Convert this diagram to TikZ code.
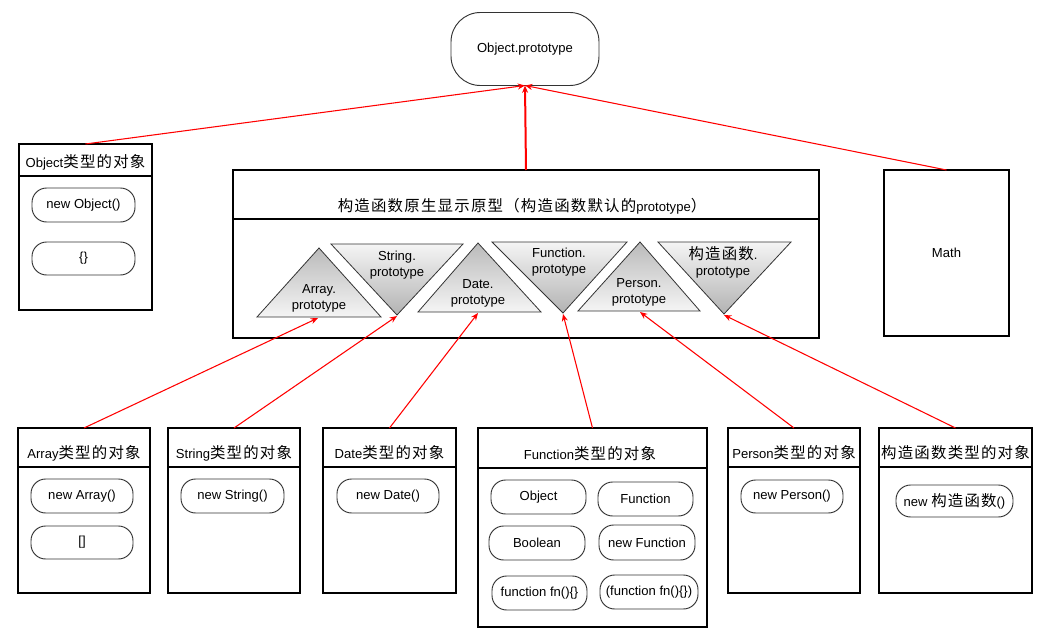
\documentclass[tikz,border=0pt]{standalone}
\usepackage{fontspec}
\setmainfont{Liberation Sans}
\newfontfamily\cjk[Scale=1.18, LetterSpace=8]{Noto Sans CJK SC}
\usetikzlibrary{arrows.meta}
\begin{document}
\begin{tikzpicture}[x=0.75pt,y=-0.75pt,
  font=\fontsize{9.8}{11}\selectfont,
  wh/.style 2 args={minimum width=#1*0.75pt, minimum height=#2*0.75pt},
  framebox/.style={draw=black, line width=0.9pt, inner sep=0pt, outer sep=0pt},
  pill/.style={draw=black!80, line width=0.7pt, rounded corners=11pt, inner sep=0pt, outer sep=0pt},
  divider/.style={draw=black, line width=0.9pt},
  tri/.style={draw=black!80, line width=0.6pt},
  up/.style={tri, top color=black!27, bottom color=black!4},
  down/.style={tri, top color=black!4, bottom color=black!30},
  trilabel/.style={align=center, font=\fontsize{9.8}{12}\selectfont, inner sep=0pt},
  link/.style={draw=red, line width=0.8pt, -{Stealth[length=5.5pt,width=4.5pt]}},
  ]
\useasboundingbox (0,0) rectangle (1049,639);

% ---- top: Object.prototype ----
\node[pill, rounded corners=22pt, wh={148}{73}] (objproto) at (525,49) {Object.prototype};

% ---- Object instances ----
\node[framebox, wh={133}{166}] (objbox) at (85.5,227) {};
\draw[divider] (objbox.west |- 0,176) -- (objbox.east |- 0,176);
\node (objtitle) at (85.5,162) {Object{\cjk 类型的对象}};
\node[pill, wh={103}{34}] (newobj) at (83.5,205) {new Object()};
\node[pill, wh={103}{33}] (objlit) at (83.5,258.5) {\{\}};

% ---- constructor prototypes ----
\node[framebox, wh={586}{168}] (ctorbox) at (526,254) {};
\draw[divider] (ctorbox.west |- 0,219) -- (ctorbox.east |- 0,219);
\node (ctortitle) at (522,206) {{\cjk 构造函数原生显示原型（构造函数默认的}prototype{\cjk ）}};

\path[up]   (319,248) -- (381,317) -- (257,317) -- cycle;
\path[down] (331,244) -- (463,244) -- (397,315) -- cycle;
\path[up]   (478,243) -- (541,312) -- (418,312) -- cycle;
\path[down] (492,242) -- (627,242) -- (563,313) -- cycle;
\path[up]   (640,242) -- (700,311) -- (578,311) -- cycle;
\path[down] (658,242) -- (791,242) -- (724,314) -- cycle;

\node[trilabel] (arrproto)  at (319,298.5) {Array.\\prototype};
\node[trilabel] (strproto)  at (397,265)   {String.\\prototype};
\node[trilabel] (dateproto) at (478,293)   {Date.\\prototype};
\node[trilabel] (funcproto) at (559,262)   {Function.\\prototype};
\node[trilabel] (persproto) at (639,292)   {Person.\\prototype};
\node[trilabel] (ctproto)   at (723,262)   {{\cjk 构造函数}.\\prototype};

\coordinate (arrtip)  at (318,318);
\coordinate (strtip)  at (397,316);
\coordinate (datetip) at (478,313);
\coordinate (functip) at (563,314);
\coordinate (perstip) at (640,312);
\coordinate (cttip)   at (724,315);

% ---- Math ----
\node[framebox, wh={125}{166}] (math) at (946.5,253) {Math};

% ---- instance boxes ----
\node[framebox, wh={132}{165}] (arrbox) at (84,510.5) {};
\draw[divider] (arrbox.west |- 0,467) -- (arrbox.east |- 0,467);
\node (arrtitle) at (84,453) {Array{\cjk 类型的对象}};
\node[pill, wh={102}{34}] (newarr) at (82,496) {new Array()};
\node[pill, wh={102}{33}] (arrlit) at (82,542.5) {[]};

\node[framebox, wh={132}{165}] (strbox) at (234,510.5) {};
\draw[divider] (strbox.west |- 0,467) -- (strbox.east |- 0,467);
\node (strtitle) at (234,453) {String{\cjk 类型的对象}};
\node[pill, wh={103}{34}] (newstr) at (232.5,496) {new String()};

\node[framebox, wh={133}{165}] (datebox) at (389.5,510.5) {};
\draw[divider] (datebox.west |- 0,467) -- (datebox.east |- 0,467);
\node (datetitle) at (389.5,453) {Date{\cjk 类型的对象}};
\node[pill, wh={102}{34}] (newdate) at (388,496) {new Date()};

\node[framebox, wh={229}{199}] (funcbox) at (592.5,527.5) {};
\draw[divider] (funcbox.west |- 0,468) -- (funcbox.east |- 0,468);
\node (functitle) at (590,454) {Function{\cjk 类型的对象}};
\node[pill, wh={95}{34}] (fobject)  at (538.5,497) {Object};
\node[pill, wh={95}{34}] (ffunc)    at (645.5,499) {Function};
\node[pill, wh={96}{34}] (fbool)    at (537,543)   {Boolean};
\node[pill, wh={96}{35}] (fnewfunc) at (647,542.5) {new Function};
\node[pill, wh={95}{34}] (fdecl)    at (539.5,593) {function fn()\{\}};
\node[pill, wh={98}{34}] (fexpr)    at (649,592)   {(function fn()\{\})};

\node[framebox, wh={132}{165}] (persbox) at (794,510.5) {};
\draw[divider] (persbox.west |- 0,467) -- (persbox.east |- 0,467);
\node (perstitle) at (794,453) {Person{\cjk 类型的对象}};
\node[pill, wh={102}{33}] (newpers) at (792,496.5) {new Person()};

\node[framebox, wh={153}{165}] (ctobjbox) at (955.5,510.5) {};
\draw[divider] (ctobjbox.west |- 0,467) -- (ctobjbox.east |- 0,467);
\node (ctobjtitle) at (955.5,453) {{\cjk 构造函数类型的对象}};
\node[pill, wh={117}{32}] (newct) at (954.5,501) {new {\cjk 构造函数}()};

% ---- prototype links ----
\draw[link] (objbox.north) -- (objproto.south);
\draw[link] (math.north) -- (objproto.south);
\draw[link, line width=1.5pt] (ctorbox.north) -- (objproto.south);

\draw[link] (arrbox.north)   -- (arrtip);
\draw[link] (strbox.north)   -- (strtip);
\draw[link] (datebox.north)  -- (datetip);
\draw[link] (funcbox.north)  -- (functip);
\draw[link] (persbox.north)  -- (perstip);
\draw[link] (ctobjbox.north) -- (cttip);
\end{tikzpicture}
\end{document}
